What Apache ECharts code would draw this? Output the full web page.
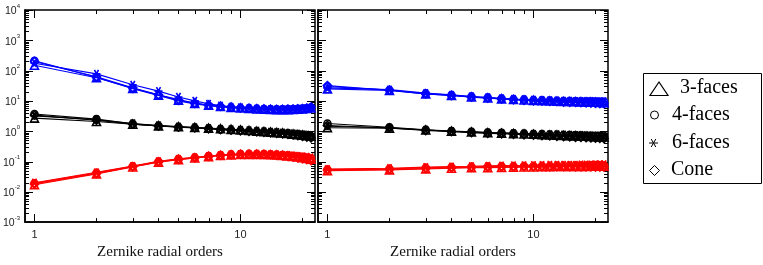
<!DOCTYPE html>
<html>
<head>
<meta charset="utf-8">
<script src="https://cdn.jsdelivr.net/npm/echarts@6/dist/echarts.min.js"></script>
<style>html,body{margin:0;padding:0;background:#fff;}#c{width:763px;height:265px;}</style>
</head>
<body>
<div id="c"></div>
<script>
// Zernike radial orders
const orders = [1,2,3,4,5,6,7,8,9,10,11,12,13,14,15,16,17,18,19,20,21,22];

// Left panel
const leftBlueTri  = [150,58,26,15.5,10.5,8.3,7.2,6.5,6.1,5.8,5.6,5.4,5.3,5.2,5.1,5.1,5.1,5.2,5.3,5.4,5.6,5.8];
const leftBlueCirc = [210,60,25,15,10,8,7,6.4,6.0,5.8,5.6,5.5,5.4,5.3,5.3,5.3,5.4,5.4,5.5,5.6,5.8,6.0];
const leftBlueStar = [175,78,34,21,13.5,10,8,7,6.4,6.1,5.8,5.6,5.4,5.3,5.2,5.2,5.2,5.3,5.4,5.5,5.7,6.0];
const leftBlueDiam = [200,62,27,16,11,8.5,7.3,6.6,6.2,5.9,5.7,5.5,5.4,5.3,5.2,5.2,5.3,5.3,5.4,5.5,5.7,6.2];

const leftBlackTri  = [2.7,2.1,1.7,1.5,1.4,1.33,1.25,1.2,1.15,1.1,1.05,1.0,0.97,0.93,0.9,0.87,0.84,0.8,0.77,0.74,0.71,0.68];
const leftBlackCirc = [3.7,2.5,1.75,1.5,1.38,1.3,1.22,1.15,1.1,1.06,1.02,0.98,0.95,0.92,0.89,0.86,0.83,0.8,0.77,0.74,0.71,0.68];
const leftBlackStar = [3.2,2.4,1.8,1.55,1.42,1.33,1.26,1.2,1.15,1.1,1.06,1.02,0.99,0.96,0.93,0.9,0.87,0.84,0.81,0.78,0.76,0.74];
const leftBlackDiam = [3.4,2.3,1.7,1.48,1.36,1.28,1.2,1.13,1.08,1.03,0.99,0.95,0.92,0.88,0.85,0.82,0.79,0.75,0.72,0.68,0.64,0.6];

const leftRedTri  = [0.017,0.039,0.066,0.095,0.115,0.13,0.145,0.157,0.165,0.17,0.172,0.172,0.17,0.167,0.163,0.158,0.152,0.146,0.14,0.133,0.126,0.118];
const leftRedCirc = [0.019,0.042,0.069,0.1,0.12,0.135,0.15,0.162,0.17,0.175,0.177,0.177,0.175,0.172,0.168,0.163,0.158,0.152,0.146,0.14,0.134,0.128];
const leftRedStar = [0.02,0.044,0.071,0.102,0.122,0.137,0.152,0.163,0.171,0.176,0.178,0.178,0.176,0.173,0.17,0.166,0.162,0.157,0.152,0.147,0.142,0.137];
const leftRedDiam = [0.018,0.04,0.067,0.097,0.117,0.132,0.147,0.158,0.166,0.171,0.173,0.172,0.169,0.165,0.16,0.154,0.147,0.14,0.132,0.124,0.115,0.106];

// Right panel
const rightBlueTri  = [25,22,17,15,13.5,12.5,11.7,11.1,10.7,10.4,10.1,9.9,9.7,9.6,9.5,9.4,9.3,9.2,9.1,9.0,8.9,8.8];
const rightBlueCirc = [30,23,17.5,15.5,13.8,12.8,12,11.4,11,10.7,10.4,10.2,10,9.9,9.8,9.7,9.6,9.6,9.5,9.5,9.4,9.4];
const rightBlueStar = [27,23.5,18,15.8,14,13,12.2,11.6,11.2,10.9,10.6,10.4,10.2,10.1,10,9.9,9.9,9.8,9.8,9.7,9.7,9.7];
const rightBlueDiam = [32,22.5,17,15,13.3,12.3,11.5,10.9,10.5,10.1,9.8,9.6,9.4,9.2,9.0,8.9,8.7,8.6,8.5,8.3,8.2,8.1];

const rightBlackTri  = [1.3,1.25,1.1,1.0,0.94,0.89,0.86,0.83,0.81,0.79,0.77,0.75,0.74,0.72,0.71,0.7,0.69,0.68,0.67,0.66,0.65,0.64];
const rightBlackCirc = [1.8,1.35,1.12,1.02,0.96,0.91,0.88,0.85,0.83,0.81,0.79,0.78,0.76,0.75,0.74,0.73,0.72,0.71,0.7,0.69,0.68,0.67];
const rightBlackStar = [1.45,1.3,1.1,1.0,0.95,0.9,0.87,0.85,0.83,0.81,0.8,0.79,0.78,0.77,0.76,0.75,0.74,0.73,0.72,0.71,0.71,0.7];
const rightBlackDiam = [1.55,1.28,1.05,0.96,0.9,0.85,0.82,0.79,0.76,0.74,0.72,0.7,0.68,0.66,0.65,0.63,0.62,0.61,0.6,0.59,0.58,0.57];

const rightRedTri  = [0.05,0.053,0.057,0.06,0.062,0.063,0.064,0.065,0.066,0.066,0.067,0.067,0.068,0.068,0.068,0.069,0.069,0.069,0.07,0.07,0.07,0.07];
const rightRedCirc = [0.054,0.057,0.062,0.065,0.067,0.068,0.069,0.07,0.071,0.071,0.072,0.072,0.073,0.073,0.073,0.074,0.074,0.074,0.075,0.075,0.075,0.075];
const rightRedStar = [0.056,0.06,0.065,0.068,0.07,0.072,0.073,0.074,0.075,0.076,0.076,0.077,0.077,0.078,0.078,0.078,0.079,0.079,0.079,0.08,0.08,0.08];
const rightRedDiam = [0.052,0.055,0.059,0.062,0.064,0.065,0.066,0.066,0.067,0.067,0.067,0.067,0.067,0.067,0.067,0.066,0.066,0.066,0.066,0.065,0.065,0.065];

// Axis ticks
const xMajorTicks = [1, 10];
const xMinorTicks = [2,3,4,5,6,7,8,9,20];
const yMajorTicks = [1e-3,1e-2,1e-1,1,10,100,1000,10000];
const xAxisName = 'Zernike radial orders';
const legendLabels = ['3-faces','4-faces','6-faces','Cone'];

const yMinorTicks = [];
for (let k = -3; k < 4; k++) for (let m = 2; m <= 9; m++) yMinorTicks.push(m * Math.pow(10, k));

const ASTER = 'path://M0,5L10,5M2.5,0.67L7.5,9.33M2.5,9.33L7.5,0.67';
const shapes = ['triangle', 'circle', ASTER, 'diamond'];
const colors = {blue: '#0000ff', black: '#000000', red: '#ff0000'};

const panels = [
  {blue: [leftBlueTri,leftBlueCirc,leftBlueStar,leftBlueDiam],
   black: [leftBlackTri,leftBlackCirc,leftBlackStar,leftBlackDiam],
   red: [leftRedTri,leftRedCirc,leftRedStar,leftRedDiam]},
  {blue: [rightBlueTri,rightBlueCirc,rightBlueStar,rightBlueDiam],
   black: [rightBlackTri,rightBlackCirc,rightBlackStar,rightBlackDiam],
   red: [rightRedTri,rightRedCirc,rightRedStar,rightRedDiam]}
];

const series = [];
panels.forEach((p, pi) => {
  ['blue','black','red'].forEach(cn => {
    p[cn].forEach((arr, si) => {
      series.push({
        type: 'line', xAxisIndex: pi, yAxisIndex: pi,
        data: orders.map((n, i) => [n, arr[i]]),
        symbol: shapes[si], symbolSize: si === 1 ? 7 : 8,
        lineStyle: {color: colors[cn], width: 1.1},
        itemStyle: {color: 'rgba(0,0,0,0)', borderColor: colors[cn], borderWidth: 1.6},
        emphasis: {disabled: true}, silent: true, animation: false, z: 3
      });
    });
  });
  const tickData = [];
  xMinorTicks.forEach(v => tickData.push([v, 1]));
  xMajorTicks.forEach(v => tickData.push([v, 2]));
  yMinorTicks.forEach(v => tickData.push([v, 3]));
  yMajorTicks.forEach(v => tickData.push([v, 4]));
  series.push({
    type: 'custom', xAxisIndex: pi, yAxisIndex: pi, clip: false, silent: true, animation: false,
    encode: {x: 0, y: 1}, z: 2,
    data: tickData,
    renderItem: function (params, api) {
      const cs = params.coordSys;
      const v = api.value(0), k = api.value(1);
      const st = {stroke: '#000', lineWidth: 1};
      if (k <= 2) {
        const px = Math.round(api.coord([v, 1])[0]) + 0.5;
        const len = k === 2 ? 8 : 4;
        const yb = cs.y + cs.height, yt = cs.y;
        return {type: 'group', children: [
          {type: 'line', shape: {x1: px, y1: yb, x2: px, y2: yb - len}, style: st},
          {type: 'line', shape: {x1: px, y1: yt, x2: px, y2: yt + len}, style: st}
        ]};
      } else {
        const py = Math.round(api.coord([1, v])[1]) + 0.5;
        const len = k === 4 ? 8 : 4;
        const xl = cs.x, xr = cs.x + cs.width;
        return {type: 'group', children: [
          {type: 'line', shape: {x1: xl, y1: py, x2: xl + len, y2: py}, style: st},
          {type: 'line', shape: {x1: xr, y1: py, x2: xr - len, y2: py}, style: st}
        ]};
      }
    }
  });
});

function isPow10(v) { const l = Math.log10(v); return Math.abs(l - Math.round(l)) < 1e-6; }

const gridLefts = [25, 318];
const option = {
  animation: false,
  backgroundColor: '#fff',
  grid: gridLefts.map(l => ({left: l, top: 10, width: 290, height: 218, show: true,
    borderColor: '#000', borderWidth: 1.5, backgroundColor: 'rgba(0,0,0,0)', containLabel: false})),
  xAxis: gridLefts.map((l, i) => ({
    type: 'log', gridIndex: i, logBase: 10, min: 0.9, max: 23,
    axisLine: {show: true, lineStyle: {color: '#000', width: 1.5}},
    axisTick: {show: false}, splitLine: {show: false}, minorTick: {show: false},
    axisLabel: {show: true, margin: 7, fontFamily: 'Liberation Sans', fontSize: 11, color: '#222',
      formatter: v => isPow10(v) && v >= 1 ? String(Math.round(v)) : ''},
    name: xAxisName, nameLocation: 'middle', nameGap: 8,
    nameTextStyle: {fontFamily: 'Liberation Serif', fontSize: 15, color: '#111', padding: [0, 20, 0, 0], verticalAlign: 'top'}
  })),
  yAxis: gridLefts.map((l, i) => ({
    type: 'log', gridIndex: i, logBase: 10, min: 1e-3, max: 1e4,
    axisLine: {show: true, lineStyle: {color: '#000', width: 1.5}},
    axisTick: {show: false}, splitLine: {show: false}, minorTick: {show: false},
    axisLabel: {show: i === 0, margin: 5, interval: 0,
      formatter: v => { const e = Math.round(Math.log10(v)); return '{b|10}{s|' + e + '}'; },
      rich: {
        b: {fontFamily: 'Liberation Sans', fontSize: 10.5, color: '#222', verticalAlign: 'bottom', lineHeight: 14},
        s: {fontFamily: 'Liberation Sans', fontSize: 6, color: '#222', verticalAlign: 'top', lineHeight: 14}
      }}
  })),
  series: series,
  graphic: [
    {type: 'rect', shape: {x: 643.5, y: 73.5, width: 118, height: 110}, style: {fill: '#fff', stroke: '#000', lineWidth: 1}},
    {type: 'polygon', shape: {points: [[650,95.5],[668,95.5],[659,82]]}, style: {fill: 'none', stroke: '#000', lineWidth: 1.2}},
    {type: 'circle', shape: {cx: 654.5, cy: 115, r: 4}, style: {fill: 'none', stroke: '#000', lineWidth: 1}},
    {type: 'group', children: [
      {type: 'line', shape: {x1: 649, y1: 143, x2: 658, y2: 143}, style: {stroke: '#000', lineWidth: 1}},
      {type: 'line', shape: {x1: 651.2, y1: 139, x2: 655.8, y2: 147}, style: {stroke: '#000', lineWidth: 1}},
      {type: 'line', shape: {x1: 651.2, y1: 147, x2: 655.8, y2: 139}, style: {stroke: '#000', lineWidth: 1}}
    ]},
    {type: 'polygon', shape: {points: [[649.5,170.5],[654.5,165.5],[659.5,170.5],[654.5,175.5]]}, style: {fill: 'none', stroke: '#000', lineWidth: 1}},
    {type: 'text', x: 680, y: 88, style: {text: legendLabels[0], font: '20px "Liberation Serif"', fill: '#000', verticalAlign: 'middle'}},
    {type: 'text', x: 672, y: 115, style: {text: legendLabels[1], font: '20px "Liberation Serif"', fill: '#000', verticalAlign: 'middle'}},
    {type: 'text', x: 672, y: 143, style: {text: legendLabels[2], font: '20px "Liberation Serif"', fill: '#000', verticalAlign: 'middle'}},
    {type: 'text', x: 671, y: 170, style: {text: legendLabels[3], font: '20px "Liberation Serif"', fill: '#000', verticalAlign: 'middle'}}
  ]
};

const chart = echarts.init(document.getElementById('c'), null, {renderer: 'canvas'});
chart.setOption(option);
</script>
</body>
</html>
